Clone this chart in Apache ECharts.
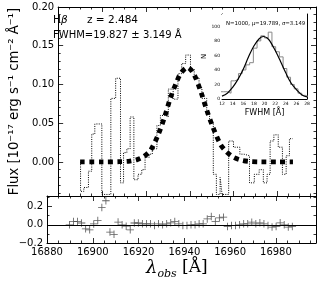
<!DOCTYPE html>
<html><head><meta charset="utf-8">
<script src="https://cdn.jsdelivr.net/npm/echarts@6/dist/echarts.min.js"></script>
<style>html,body{margin:0;padding:0;background:#fff}#c{width:326px;height:283px}</style>
</head><body><div id="c"></div>
<script>
// observed spectrum (step, left edges)
const specX = [16890.2,16890.2,16891.7,16893.8,16895.3,16896.7,16899.9,16904.0,16906.2,16908.4,16909.8,16911.3,16912.8,16914.5,16916.4,16918.1,16919.6,16921.5,16922.9,16925.0,16926.6,16928.8,16930.2,16932.4,16934.6,16936.3,16938.1,16940.3,16942.0,16944.2,16945.5,16947.7,16949.0,16950.7,16952.1,16953.8,16954.7,16957.7,16959.9,16962.8,16964.7,16967.2,16969.4,16971.6,16973.5,16975.2,16976.6,16978.3,16980.3,16982.2,16983.9,16985.4,16986.9];
const specY = [0.0,-0.038,-0.033,-0.012,0.036,0.049,-0.042,0.082,0.108,-0.027,0.012,0.017,0.058,-0.023,-0.016,-0.010,0.006,0.010,0.017,0.047,0.060,0.058,0.094,0.081,0.114,0.127,0.138,0.120,0.109,0.096,0.082,0.062,0.051,-0.016,-0.042,-0.020,-0.042,0.027,0.019,0.010,0.008,-0.027,-0.016,-0.010,-0.027,-0.016,0.027,0.035,0.019,-0.016,0.008,0.030,0.030];
// model
const modelX = [16890,16900,16908,16912,16916,16919,16922.1,16925.7,16928.5,16931.2,16934.1,16936.0,16939.0,16941.9,16945.1,16947.7,16950.5,16953.9,16956.4,16959.6,16963.3,16967,16972,16980,16987];
const modelY = [0,0,0.0003,0.0008,0.003,0.007,0.015,0.036,0.058,0.083,0.104,0.115,0.122,0.113,0.090,0.067,0.045,0.023,0.014,0.0065,0.0024,0.0007,0.0001,0,0];
// residuals
const resX = [16889.80,16891.57,16893.34,16895.11,16896.88,16898.65,16900.42,16902.19,16903.96,16905.73,16907.50,16909.27,16911.04,16912.81,16914.58,16916.35,16918.12,16919.89,16921.66,16923.43,16925.20,16926.97,16928.74,16930.51,16932.28,16934.05,16935.82,16937.59,16939.36,16941.13,16942.90,16944.67,16946.44,16948.21,16949.98,16951.75,16953.52,16955.29,16957.06,16958.83,16960.60,16962.37,16964.14,16965.91,16967.68,16969.45,16971.22,16972.99,16974.76,16976.53,16978.30,16980.07,16981.84,16983.61,16985.38,16987.15];
const resY = [0,0.036,0.036,0.02,-0.044,-0.055,0.01,0.047,0.19,0.265,-0.08,-0.105,0.03,0,-0.015,-0.055,0.02,0.02,
  0.011,0.011,0.011,-0.007,0.011,0,0.011,0.022,0.036,0.011,-0.007,-0.007,0,0,0.011,0.011,0.065,0.091,0.036,0.076,
  0.084,-0.018,-0.007,-0.007,0,0.011,0.011,0.029,0.011,0.022,0.011,-0.007,-0.025,-0.018,0.022,0,-0.025,-0.018];
// inset histogram
const histEdges = [11.6,12.3,13.0,13.7,14.4,15.1,15.8,16.5,17.2,17.9,18.6,19.3,20.0,20.7,21.4,22.1,22.8,23.5,24.2,24.9,25.6,26.3,27.0,27.7,28.4];
const histN = [10,10,8,25,27,35,40,47,50,70,80,87,84,92,72,65,58,42,30,20,14,8,5,3,3];
const fitX = [12,13,14,15,16,17,18,19,19.8,20.5,21,22,23,24,25,26,27,28];
const fitY = [4,8,16,27,41,58,73,83,86,84,80,67,52,36,22,13,6,3];
// ticks
const xTicks = [16880,16900,16920,16940,16960,16980];
const xMinor = [16885,16890,16895,16905,16910,16915,16925,16930,16935,16945,16950,16955,16965,16970,16975,16985,16990,16995];
const mainYTicks = [0,0.05,0.10,0.15,0.20];
const mainYMinor = [-0.04,-0.03,-0.02,-0.01,0.01,0.02,0.03,0.04,0.06,0.07,0.08,0.09,0.11,0.12,0.13,0.14,0.16,0.17,0.18,0.19];
const resYTicks = [-0.2,0,0.2];
const resYMinor = [-0.1,0.1,0.3];
const insXTicks = [12,14,16,18,20,22,24,26,28];
const insXMinor = [12.5,13,13.5,14.5,15,15.5,16.5,17,17.5,18.5,19,19.5,20.5,21,21.5,22.5,23,23.5,24.5,25,25.5,26.5,27,27.5];
const insYTicks = [0,20,40,60,80,100];
const insYMinor = [5,10,15,25,30,35,45,50,55,65,70,75,85,90,95,105,110,115];

const K = '#000';
function axis(grid, pos, min, max, ticks, len, o) {
  o = o || {};
  const a = {
    type:'value', gridIndex:grid, position:pos, min:min, max:max,
    axisLine:{show:o.line!==false, onZero:false, lineStyle:{color:K, width:1}},
    axisTick:{show:true, inside:true, length:len, customValues:ticks, lineStyle:{color:K, width:0.8}},
    axisLabel:{show:!!o.labels, customValues:ticks, fontSize:o.fs||10, color:K, fontFamily:'DejaVu Sans', margin:o.margin||4},
    splitLine:{show:false}
  };
  if (o.fmt) a.axisLabel.formatter = o.fmt;
  if (o.name) {
    a.name = o.name; a.nameLocation = 'middle'; a.nameGap = o.nameGap;
    if (o.nameRotate) a.nameRotate = o.nameRotate;
    a.nameTextStyle = {fontSize:o.nameSize, color:K, fontFamily:'DejaVu Sans'};
  }
  return a;
}
const XMIN = 16880, XMAX = 16997.5;
const xAxis = [
  axis(0,'bottom',XMIN,XMAX,xTicks,5),
  axis(0,'bottom',XMIN,XMAX,xMinor,2.5,{line:false}),
  axis(0,'top',XMIN,XMAX,xTicks,5),
  axis(0,'top',XMIN,XMAX,xMinor,2.5,{line:false}),
  axis(1,'bottom',XMIN,XMAX,xTicks,5,{labels:true, fs:10, margin:4, fmt:v=>String(v)}),
  axis(1,'bottom',XMIN,XMAX,xMinor,2.5,{line:false}),
  axis(1,'top',XMIN,XMAX,xTicks,5),
  axis(1,'top',XMIN,XMAX,xMinor,2.5,{line:false}),
  axis(2,'bottom',12,28,insXTicks,2.5,{labels:true, fs:4.5, margin:2, name:'FWHM [Å]', nameGap:10, nameSize:8}),
  axis(2,'bottom',12,28,insXMinor,1.3,{line:false}),
  axis(2,'top',12,28,insXTicks,2.5),
  axis(2,'top',12,28,insXMinor,1.3,{line:false})
];
const YMIN = -0.044, YMAX = 0.2, RMIN = -0.2, RMAX = 0.317;
const yAxis = [
  axis(0,'left',YMIN,YMAX,mainYTicks,5,{labels:true, fs:10, margin:4, fmt:v=>v.toFixed(2),
     name:'Flux [10⁻¹⁷ erg s⁻¹ cm⁻² Å⁻¹]', nameGap:29, nameRotate:90, nameSize:13.2}),
  axis(0,'left',YMIN,YMAX,mainYMinor,2.5,{line:false}),
  axis(0,'right',YMIN,YMAX,mainYTicks,5),
  axis(0,'right',YMIN,YMAX,mainYMinor,2.5,{line:false}),
  axis(1,'left',RMIN,RMAX,resYTicks,5,{labels:true, fs:10, margin:4, fmt:v=>(v<0?'−':'')+Math.abs(v).toFixed(1)}),
  axis(1,'left',RMIN,RMAX,resYMinor,2.5,{line:false}),
  axis(1,'right',RMIN,RMAX,resYTicks,5),
  axis(1,'right',RMIN,RMAX,resYMinor,2.5,{line:false}),
  axis(2,'left',0,117,insYTicks,2.5,{labels:true, fs:4.5, margin:2, name:'N', nameGap:9, nameRotate:90, nameSize:7}),
  axis(2,'left',0,117,insYMinor,1.3,{line:false}),
  axis(2,'right',0,117,insYTicks,2.5),
  axis(2,'right',0,117,insYMinor,1.3,{line:false})
];
const zip = (a,b)=>a.map((v,i)=>[v,b[i]]);
const option = {
  animation:false,
  grid:[
    {left:47, top:7, width:269, height:189},
    {left:47, top:196, width:269, height:47},
    {left:222, top:14, width:85, height:85, show:true, backgroundColor:'#fff', borderWidth:0, z:5}
  ],
  xAxis:xAxis, yAxis:yAxis,
  series:[
    {type:'line', xAxisIndex:0, yAxisIndex:0, step:'end', data:zip(specX,specY), showSymbol:false,
     lineStyle:{color:'#000', width:1, type:[1,1.3]}},
    {type:'line', xAxisIndex:0, yAxisIndex:0, data:zip(modelX,modelY), showSymbol:false, smooth:0.3,
     lineStyle:{color:'#000', width:4.8, type:[4.8,4.5], cap:'butt'}},
    {type:'scatter', xAxisIndex:4, yAxisIndex:4, data:zip(resX,resY), symbol:'path://M0,4.45H10V5.55H0Z M4.45,0H5.55V10H4.45Z', symbolSize:7.5,
     itemStyle:{color:'#333'},
     markLine:{silent:true, symbol:'none', label:{show:false}, lineStyle:{color:'#000', width:1, type:'solid'}, data:[{yAxis:0}]}},
    {type:'line', xAxisIndex:8, yAxisIndex:8, step:'end', data:zip(histEdges,histN), showSymbol:false, z:6,
     lineStyle:{color:'#888', width:1}},
    {type:'line', xAxisIndex:8, yAxisIndex:8, data:zip(fitX,fitY), showSymbol:false, smooth:0.4, z:7,
     lineStyle:{color:'#000', width:1.2}}
  ],
  graphic:[
    {type:'text', left:53, top:15, style:{text:'H{b|β}', fontSize:10.5, fontFamily:'DejaVu Sans', fill:K, rich:{b:{fontStyle:'italic', fontSize:10.5, fontFamily:'DejaVu Sans'}}}},
    {type:'text', left:87, top:15, style:{text:'z = 2.484', fontSize:10.5, fontFamily:'DejaVu Sans', fill:K}},
    {type:'text', left:53, top:30.5, style:{text:'FWHM=19.827 ± 3.149 Å', fontSize:10, fontFamily:'DejaVu Sans', fill:K}},
    {type:'text', left:226, top:21, z:10, style:{text:'N=1000, μ=19.789, σ=3.149', fontSize:5.4, fontFamily:'DejaVu Sans', fill:K}},
    {type:'text', left:146, top:259, style:{text:'{l|λ}{s|obs} [Å]', fontSize:17, fontFamily:'DejaVu Serif', fill:K,
      rich:{l:{fontStyle:'italic', fontSize:18, fontFamily:'DejaVu Serif', lineHeight:24}, s:{fontStyle:'italic', fontSize:11, fontFamily:'DejaVu Serif', verticalAlign:'bottom', lineHeight:24}}}}
  ]
};
echarts.init(document.getElementById('c'), null, {renderer:'canvas'}).setOption(option);
</script></body></html>
